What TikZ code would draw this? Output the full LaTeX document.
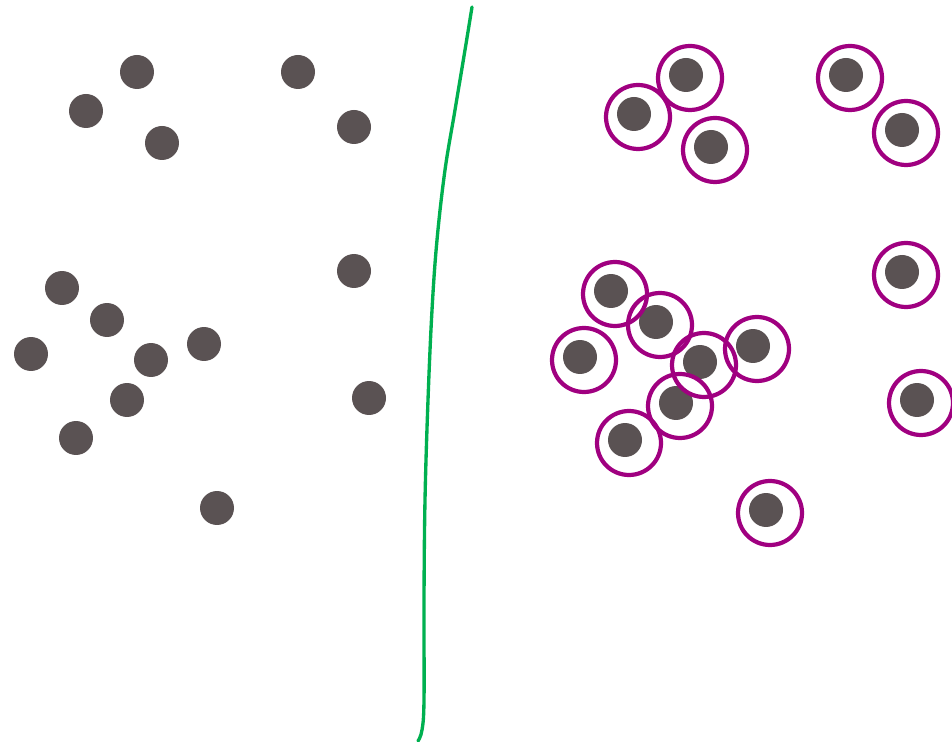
\documentclass[tikz,border=0pt]{standalone}
\usetikzlibrary{positioning}

\definecolor{dotgray}{RGB}{90,82,83}
\definecolor{ringpurple}{RGB}{160,0,128}
\definecolor{splitgreen}{RGB}{0,176,80}

\tikzset{
    dot/.style={circle, fill=dotgray, inner sep=0pt, minimum size=0.68cm},
    ring/.style={circle, draw=ringpurple, line width=2.4pt, inner sep=0pt, minimum size=1.28cm},
}

\begin{document}
\begin{tikzpicture}[x=0.02cm, y=-0.02cm]

    \useasboundingbox (0,0) rectangle (952,742);

    % left side: plain dots
    \node[dot] (l1) at (137,72) {};
    \node[dot] (l2) at (86,111) {};
    \node[dot] (l3) at (162,143) {};
    \node[dot] (l4) at (298,72) {};
    \node[dot] (l5) at (354,127) {};
    \node[dot] (l6) at (354,271) {};
    \node[dot] (l7) at (62,288) {};
    \node[dot] (l8) at (107,320) {};
    \node[dot] (l9) at (31,354) {};
    \node[dot] (l10) at (151,360) {};
    \node[dot] (l11) at (204,344) {};
    \node[dot] (l12) at (127,400) {};
    \node[dot] (l13) at (76,438) {};
    \node[dot] (l14) at (369,398) {};
    \node[dot] (l15) at (217,508) {};

    % dividing line
    \draw[splitgreen, line width=1.9pt, line cap=round] plot[smooth, tension=0.6] coordinates {
        (472,7) (465,50) (455,110) (445,170) (437,240) (432,310) (428,400)
        (425,500) (424,600) (424,700) (422,730) (418,741)};

    % right side: dots
    \node[dot] (r1) at (686,75) {};
    \node[dot] (r2) at (634,114) {};
    \node[dot] (r3) at (711,147) {};
    \node[dot] (r4) at (846,75) {};
    \node[dot] (r5) at (902,130) {};
    \node[dot] (r6) at (902,272) {};
    \node[dot] (r7) at (611,291) {};
    \node[dot] (r8) at (656,322) {};
    \node[dot] (r9) at (580,357) {};
    \node[dot] (r10) at (700,362) {};
    \node[dot] (r11) at (753,346) {};
    \node[dot] (r12) at (676,403) {};
    \node[dot] (r13) at (625,440) {};
    \node[dot] (r14) at (917,400) {};
    \node[dot] (r15) at (766,510) {};

    % rings round the right dots
    \foreach \i in {1,...,15} {
        \node[ring] (c\i) at ([shift={(0.08cm,-0.06cm)}]r\i.center) {};
    }

\end{tikzpicture}
\end{document}
